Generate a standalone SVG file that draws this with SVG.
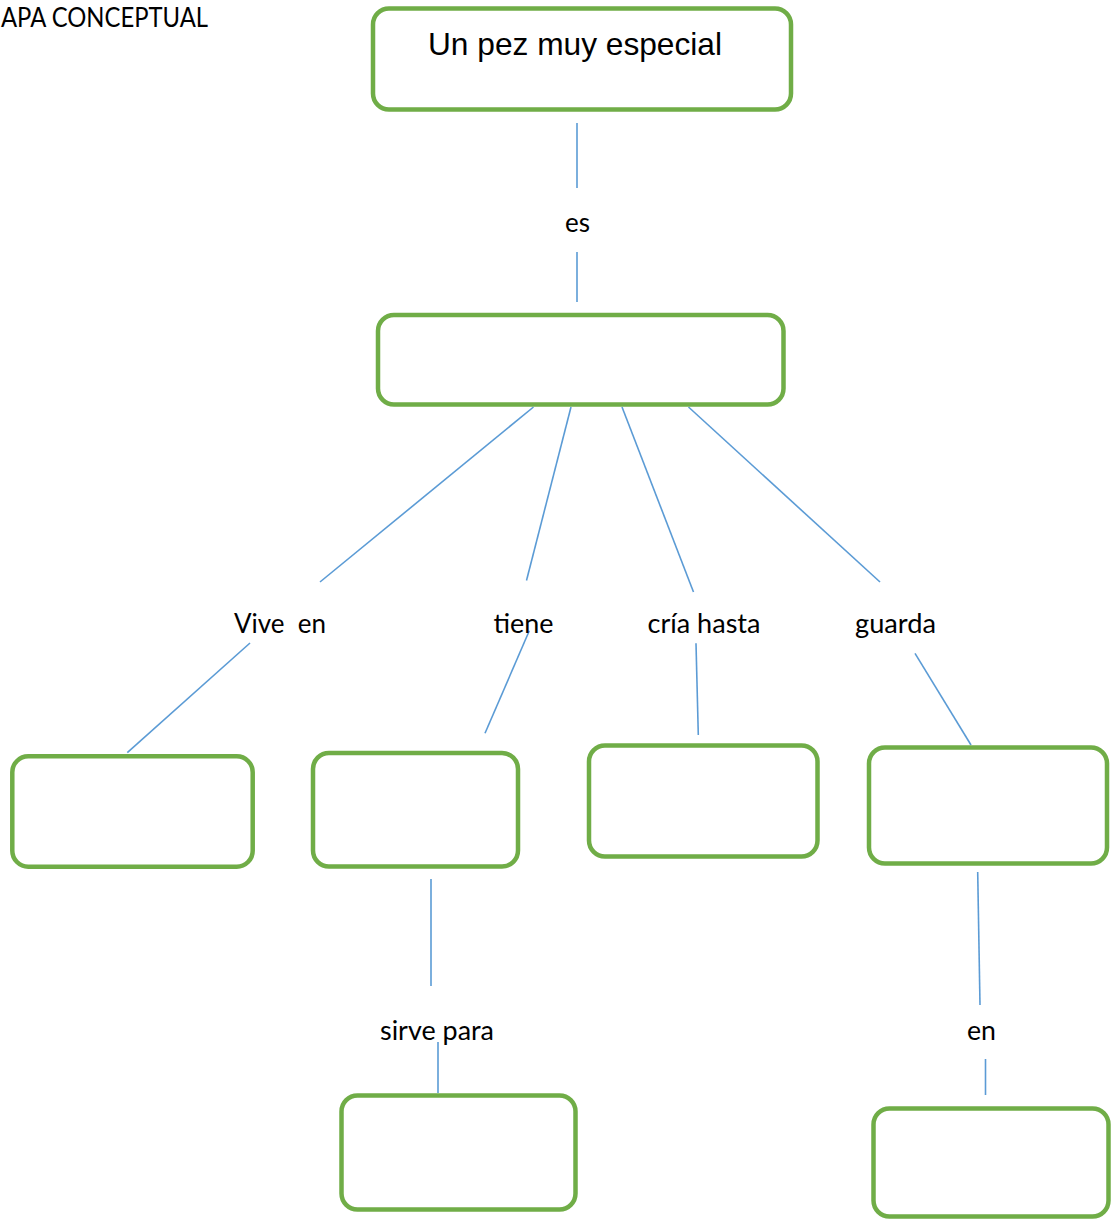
<svg xmlns="http://www.w3.org/2000/svg" width="1111" height="1220" viewBox="0 0 1111 1220">
<style>
.box{fill:#FFFFFF;stroke:#70AD47;stroke-width:4.5}
.con line{stroke:#5B9BD5;stroke-width:1.6;fill:none}
.lbl{font-family:Lato,"Open Sans",sans-serif;font-size:26px;fill:#000000}
.title{font-family:"Liberation Sans",Arial,sans-serif;font-size:32px;fill:#000000}
</style>
<rect width="1111" height="1220" fill="#FFFFFF"/>
<text class="lbl" x="1" y="27" font-size="21" textLength="207" lengthAdjust="spacingAndGlyphs">APA CONCEPTUAL</text>
<g id="connectors" class="con">
<line x1="577" y1="123" x2="577" y2="188"/>
<line x1="577" y1="252" x2="577" y2="302"/>
<line x1="533.5" y1="407" x2="320" y2="582"/>
<line x1="571" y1="407" x2="526.5" y2="580.5"/>
<line x1="622" y1="407" x2="693.5" y2="592"/>
<line x1="688.5" y1="407" x2="880" y2="582"/>
<line x1="250" y1="643" x2="127.3" y2="752.7"/>
<line x1="529.3" y1="630.7" x2="485" y2="733.3"/>
<line x1="696" y1="643.3" x2="698.3" y2="735"/>
<line x1="915" y1="653.3" x2="971" y2="745"/>
<line x1="431" y1="879" x2="431" y2="986"/>
<line x1="438" y1="1042" x2="438" y2="1093"/>
<line x1="977.7" y1="872" x2="980" y2="1005"/>
<line x1="985.5" y1="1059" x2="985.5" y2="1095"/>
</g>
<g id="label-es"><text class="lbl" x="565" y="232" textLength="25" lengthAdjust="spacingAndGlyphs">es</text></g>
<g id="label-vive"><text class="lbl" x="234" y="633" textLength="92" lengthAdjust="spacingAndGlyphs" xml:space="preserve">Vive  en</text></g>
<g id="label-tiene"><text class="lbl" x="493.5" y="633" textLength="60" lengthAdjust="spacingAndGlyphs">tiene</text></g>
<g id="label-cria"><text class="lbl" x="647.5" y="633" textLength="113" lengthAdjust="spacingAndGlyphs">cría hasta</text></g>
<g id="label-guarda"><text class="lbl" x="855" y="633" textLength="81" lengthAdjust="spacingAndGlyphs">guarda</text></g>
<g id="label-sirve"><text class="lbl" x="380" y="1040" textLength="114" lengthAdjust="spacingAndGlyphs">sirve para</text></g>
<g id="label-en"><text class="lbl" x="967" y="1040" textLength="29" lengthAdjust="spacingAndGlyphs">en</text></g>
<g id="node-top">
<rect class="box" x="373" y="8.5" width="418" height="101" rx="16"/>
<text class="title" x="428" y="55" textLength="294" lengthAdjust="spacingAndGlyphs">Un pez muy especial</text>
</g>
<g id="node-middle"><rect class="box" x="378" y="315" width="405.5" height="89.5" rx="16"/></g>
<g id="node-vive"><rect class="box" x="12.3" y="756.3" width="240.4" height="110.4" rx="16"/></g>
<g id="node-tiene"><rect class="box" x="313" y="753" width="205" height="113.5" rx="16"/></g>
<g id="node-cria"><rect class="box" x="589" y="745.5" width="228.5" height="111" rx="16"/></g>
<g id="node-guarda"><rect class="box" x="869" y="747.5" width="238" height="116" rx="16"/></g>
<g id="node-sirve"><rect class="box" x="341.5" y="1095.5" width="234" height="114" rx="16"/></g>
<g id="node-en"><rect class="box" x="873.5" y="1108.5" width="235" height="108" rx="16"/></g>
</svg>
